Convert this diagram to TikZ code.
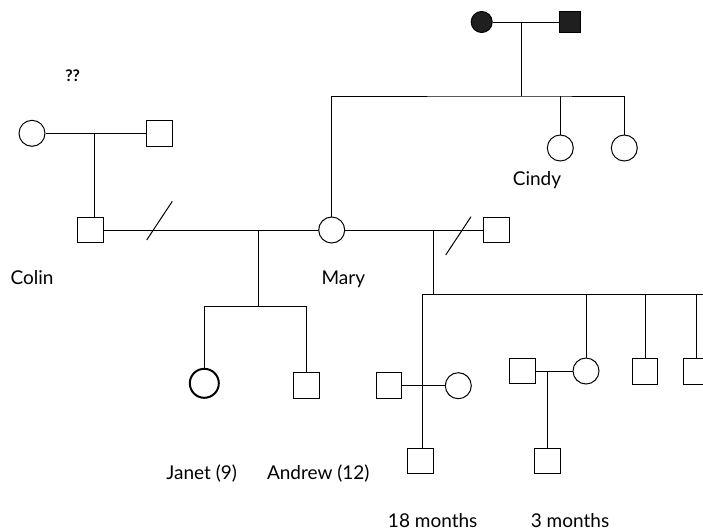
\documentclass[tikz,border=0pt]{standalone}
\usepackage{fontspec}
\setmainfont{Lato}
\begin{document}
\begin{tikzpicture}[x=1pt,y=-1pt,line width=1pt,
  fem/.style={circle,draw,minimum size=26pt,inner sep=0pt},
  mal/.style={rectangle,draw,minimum size=25.5pt,inner sep=0pt},
  lab/.style={font=\fontsize{19}{22}\selectfont,inner sep=0pt,anchor=base}]
\useasboundingbox (0,0) rectangle (703,531);
% top generation
\node[fem,fill=black!88,minimum size=21pt] (gm) at (481.7,22) {};
\node[mal,fill=black!88,minimum size=21pt] (gf) at (570.3,22) {};
\coordinate (g) at (521,22);
\coordinate (gs) at (521,96);
\node[fem] (mary) at (331.7,230) {};
\node[fem] (cindy) at (560.3,148) {};
\node[fem] (sis) at (624.3,148) {};
\draw (gm) -- (gf);
\draw (g) -- (gs);
\draw (mary) |- (gs) -| (sis);
\draw (cindy) -- (cindy |- gs);
% Colin's parents
\node[fem] (cgm) at (32,133.3) {};
\node[mal] (cgf) at (159.3,133.3) {};
\node[mal] (colin) at (90.3,230) {};
\coordinate (cp) at (94,133.3);
\draw (cgm) -- (cgf);
\draw (cp) -- (cp |- colin.north);
% Colin - Mary
\draw (colin) -- (mary);
\coordinate (sl1a) at (146.7,240);
\coordinate (sl1b) at (172.3,201.3);
\draw (sl1a) -- (sl1b);
\coordinate (cm) at (258.7,230);
\coordinate (cms) at (258.7,306.7);
\node[fem,minimum size=29pt,line width=2pt] (janet) at (204.3,383.3) {};
\node[mal] (andrew) at (306.7,385.7) {};
\draw (cm) -- (cms);
\draw (janet) |- (cms) -| (andrew);
% Mary - second partner
\node[mal] (m2) at (496.7,230) {};
\draw (mary) -- (m2);
\coordinate (sl2a) at (445.7,255);
\coordinate (sl2b) at (471,216.7);
\draw (sl2a) -- (sl2b);
\coordinate (mm) at (433.3,230);
\coordinate (mms) at (433.3,294.3);
\draw (mm) -- (mms);
\coordinate (c1) at (422.7,294.3);
\coordinate (cend) at (710,294.3);
\draw (c1) -- (cend);
% child 1 couple
\node[mal] (h1) at (389,385.7) {};
\node[fem] (w1) at (458.3,385.7) {};
\node[mal] (k1) at (420.3,461) {};
\draw (h1) -- (w1);
\draw (c1) -- (c1 |- k1.north);
% child 2 couple
\node[mal] (h2) at (522.3,371) {};
\node[fem] (w2) at (586,371) {};
\node[mal] (k2) at (547.7,461) {};
\coordinate (c2) at (586,294.3);
\coordinate (h2w2) at (547.7,371);
\draw (h2) -- (w2);
\draw (c2) -- (w2);
\draw (h2w2) -- (k2);
% sons
\node[mal] (s3) at (645,371.7) {};
\node[mal] (s4) at (696,371.7) {};
\draw (s3) -- (s3 |- c1);
\draw (s4) -- (s4 |- c1);
% labels
\node[lab,font=\fontsize{16}{18}\selectfont\bfseries] (q) at (72.7,81) {??};
\node[lab] (lcolin) at (32,284.5) {Colin};
\node[lab] (lmary) at (343.3,284.5) {Mary};
\node[lab] (lcindy) at (537,185.5) {Cindy};
\node[lab] (ljanet) at (201.7,479) {Janet (9)};
\node[lab] (landrew) at (318.3,479) {Andrew (12)};
\node[lab] (l18) at (432.7,527) {18 months};
\node[lab] (l3) at (570,527) {3 months};
\end{tikzpicture}
\end{document}
